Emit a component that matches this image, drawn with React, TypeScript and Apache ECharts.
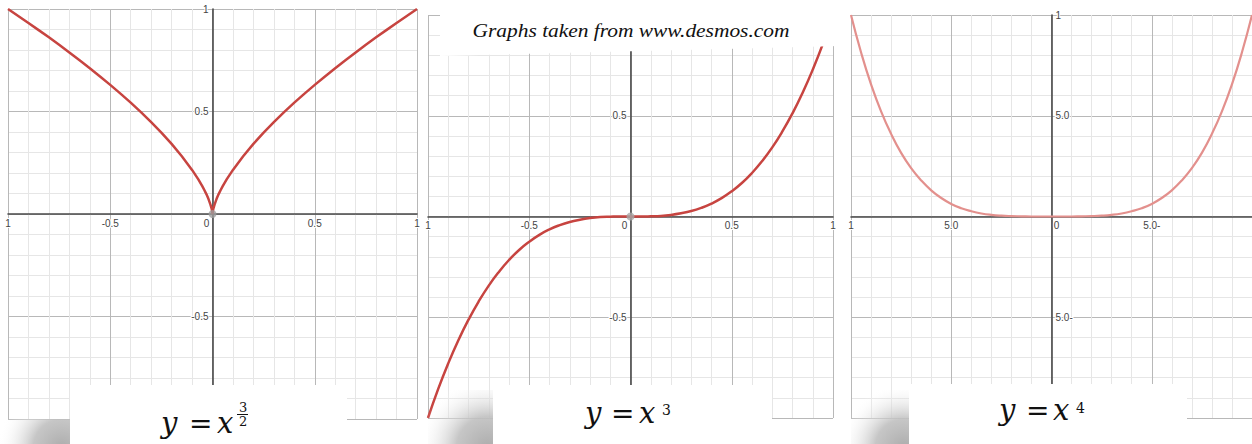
import React, { useEffect, useRef } from "react";
import * as echarts from "echarts";

// ---- data ----
const xPow23 = [-1, -0.95, -0.9, -0.85, -0.8, -0.75, -0.7, -0.65, -0.6, -0.55, -0.5, -0.45, -0.4, -0.35, -0.3, -0.25, -0.2, -0.15, -0.1, -0.07, -0.05, -0.04, -0.03, -0.02, -0.01, -0.005, -0.0025, 0, 0.0025, 0.005, 0.01, 0.02, 0.03, 0.04, 0.05, 0.07, 0.1, 0.15, 0.2, 0.25, 0.3, 0.35, 0.4, 0.45, 0.5, 0.55, 0.6, 0.65, 0.7, 0.75, 0.8, 0.85, 0.9, 0.95, 1];
const yPow23 = [1, 0.966, 0.932, 0.897, 0.862, 0.826, 0.788, 0.75, 0.711, 0.671, 0.63, 0.587, 0.543, 0.497, 0.448, 0.397, 0.342, 0.282, 0.215, 0.17, 0.136, 0.117, 0.097, 0.074, 0.046, 0.029, 0.018, 0, 0.018, 0.029, 0.046, 0.074, 0.097, 0.117, 0.136, 0.17, 0.215, 0.282, 0.342, 0.397, 0.448, 0.497, 0.543, 0.587, 0.63, 0.671, 0.711, 0.75, 0.788, 0.826, 0.862, 0.897, 0.932, 0.966, 1];

const xCube = [-1, -0.95, -0.9, -0.85, -0.8, -0.75, -0.7, -0.65, -0.6, -0.55, -0.5, -0.45, -0.4, -0.35, -0.3, -0.25, -0.2, -0.15, -0.1, -0.05, 0, 0.05, 0.1, 0.15, 0.2, 0.25, 0.3, 0.35, 0.4, 0.45, 0.5, 0.55, 0.6, 0.65, 0.7, 0.75, 0.8, 0.85, 0.9, 0.95, 1];
const yCube = [-1, -0.857, -0.729, -0.614, -0.512, -0.422, -0.343, -0.275, -0.216, -0.166, -0.125, -0.091, -0.064, -0.043, -0.027, -0.016, -0.008, -0.003, -0.001, 0, 0, 0, 0.001, 0.003, 0.008, 0.016, 0.027, 0.043, 0.064, 0.091, 0.125, 0.166, 0.216, 0.275, 0.343, 0.422, 0.512, 0.614, 0.729, 0.857, 1];

const xQuart = [-1, -0.95, -0.9, -0.85, -0.8, -0.75, -0.7, -0.65, -0.6, -0.55, -0.5, -0.45, -0.4, -0.35, -0.3, -0.25, -0.2, -0.15, -0.1, -0.05, 0, 0.05, 0.1, 0.15, 0.2, 0.25, 0.3, 0.35, 0.4, 0.45, 0.5, 0.55, 0.6, 0.65, 0.7, 0.75, 0.8, 0.85, 0.9, 0.95, 1];
const yQuart = [1, 0.815, 0.656, 0.522, 0.41, 0.316, 0.24, 0.179, 0.13, 0.092, 0.0625, 0.041, 0.026, 0.015, 0.008, 0.004, 0.002, 0.001, 0, 0, 0, 0, 0, 0.001, 0.002, 0.004, 0.008, 0.015, 0.026, 0.041, 0.0625, 0.092, 0.13, 0.179, 0.24, 0.316, 0.41, 0.522, 0.656, 0.815, 1];

const origin = [[0, 0]];

// tick labels (as visible in the picture; panel 3 is a mirrored screenshot)
const xTicks1: Record<string, string> = { "-1": "1", "-0.5": "-0.5", "0": "{zl|0}", "0.5": "0.5", "1": "1" };
const yTicks1: Record<string, string> = { "-1": "", "-0.5": "-0.5", "0": "", "0.5": "0.5", "1": "1" };
const yTicks2: Record<string, string> = { "-1": "", "-0.5": "-0.5", "0": "", "0.5": "0.5", "1": "" };
const xTicks3: Record<string, string> = { "-1": "1", "-0.5": "5.0", "0": "{zr|0}", "0.5": "5.0-", "1": "" };
const yTicks3: Record<string, string> = { "-1": "", "-0.5": "5.0-", "0": "", "0.5": "5.0", "1": "1" };

const title = "Graphs taken from www.desmos.com";

const zip = (xs: number[], ys: number[]) => xs.map((x, i) => [x, ys[i]]);

const labelBase = {
  fontSize: 10,
  color: "#444",
  fontFamily: "Liberation Sans, Arial, sans-serif",
  textBorderColor: "#fff",
  textBorderWidth: 2,
};
const rich = {
  zl: { ...labelBase, padding: [0, 12, 0, 0] },
  zr: { ...labelBase, padding: [0, 0, 0, 10] },
};

const fmt = (ticks: Record<string, string>) => (v: number) => {
  const k = String(Math.round(v * 100) / 100);
  return ticks[k] ?? "";
};

function xAxis(gi: number, ticks: Record<string, string>, off: number) {
  return {
    type: "value",
    gridIndex: gi,
    position: "bottom",
    offset: off,
    min: -1,
    max: 1,
    interval: 0.5,
    axisLine: { onZero: false, lineStyle: { color: "#4a4a4a", width: 1.6 } },
    axisTick: { show: false },
    minorTick: { show: false, splitNumber: 5 },
    splitLine: { show: true, lineStyle: { color: "#b8b8b8", width: 1 } },
    minorSplitLine: { show: true, lineStyle: { color: "#e6e6e6", width: 1 } },
    axisLabel: { ...labelBase, margin: 4, hideOverlap: false, showMinLabel: true, showMaxLabel: true, rich, formatter: fmt(ticks) },
  };
}
function yAxis(gi: number, ticks: Record<string, string>, off: number, inside: boolean) {
  return {
    type: "value",
    gridIndex: gi,
    position: "left",
    offset: off,
    min: -1,
    max: 1,
    interval: 0.5,
    axisLine: { onZero: false, lineStyle: { color: "#4a4a4a", width: 1.6 } },
    axisTick: { show: false },
    minorTick: { show: false, splitNumber: 5 },
    splitLine: { show: true, lineStyle: { color: "#b8b8b8", width: 1 } },
    minorSplitLine: { show: true, lineStyle: { color: "#e6e6e6", width: 1 } },
    axisLabel: { ...labelBase, margin: 4, inside, hideOverlap: false, showMinLabel: true, showMaxLabel: true, formatter: fmt(ticks) },
  };
}

const mathFont = "DejaVu Serif";
function glyph(t: string, x: number, y: number, size: number, italic: boolean) {
  return {
    type: "text",
    z: 110,
    style: {
      text: t,
      x,
      y,
      align: "left",
      verticalAlign: "middle",
      fontFamily: mathFont,
      fontSize: size,
      fontStyle: italic ? "italic" : "normal",
      fill: "#111",
    },
  };
}
function shadow(x: number, y: number, w: number, h: number, cx: number, cy: number, r: number) {
  return {
    type: "rect",
    z: 100,
    shape: { x, y, width: w, height: h },
    style: {
      fill: new echarts.graphic.RadialGradient(cx, cy, r, [
        { offset: 0, color: "rgba(172,172,172,1)" },
        { offset: 0.45, color: "rgba(192,192,192,0.9)" },
        { offset: 1, color: "rgba(255,255,255,0)" },
      ], true),
    },
  };
}
function box(x: number, y: number, w: number, h: number) {
  return { type: "rect", z: 105, shape: { x, y, width: w, height: h }, style: { fill: "#fff" } };
}

export default function App() {
  const ref = useRef<HTMLDivElement>(null);
  useEffect(() => {
    if (!ref.current) return;
    const chart = echarts.init(ref.current, null, { renderer: "svg" });
    chart.setOption({
      animation: false,
      backgroundColor: "#fff",
      grid: [
        { left: 8, top: 9, width: 409, height: 410, outerBoundsMode: "none", containLabel: false },
        { left: 428, top: 15, width: 405, height: 403, outerBoundsMode: "none", containLabel: false },
        { left: 851, top: 15, width: 401, height: 403, outerBoundsMode: "none", containLabel: false },
      ],
      xAxis: [xAxis(0, xTicks1, -205), xAxis(1, xTicks1, -201.5), xAxis(2, xTicks3, -201.5)],
      yAxis: [yAxis(0, yTicks1, -204.5, false), yAxis(1, yTicks2, -202.5, false), yAxis(2, yTicks3, -200.5, true)],
      series: [
        { type: "line", xAxisIndex: 0, yAxisIndex: 0, data: zip(xPow23, yPow23), showSymbol: false, smooth: false, lineStyle: { color: "#c74440", width: 2.5 } },
        { type: "line", xAxisIndex: 1, yAxisIndex: 1, data: zip(xCube, yCube), showSymbol: false, smooth: true, lineStyle: { color: "#c74440", width: 2.5 } },
        { type: "line", xAxisIndex: 2, yAxisIndex: 2, data: zip(xQuart, yQuart), showSymbol: false, smooth: true, lineStyle: { color: "#e3908d", width: 2.2 } },
        { type: "scatter", xAxisIndex: 0, yAxisIndex: 0, data: origin, symbolSize: 8, itemStyle: { color: "#9e9e9e" }, z: 5 },
        { type: "scatter", xAxisIndex: 1, yAxisIndex: 1, data: origin, symbolSize: 8, itemStyle: { color: "#a8a8a8" }, z: 5 },
      ],
      graphic: [
        // title banner
        { type: "polygon", z: 105, shape: { points: [[440, 14], [840, 12], [840, 46], [440, 56]] }, style: { fill: "#fff" } },
        {
          type: "text", z: 110, x: 631, y: 31, scaleX: 1.19,
          style: { text: title, align: "center", verticalAlign: "middle", fontFamily: "Liberation Serif", fontStyle: "italic", fontSize: 18, fill: "#111" },
        },
        // shadows
        shadow(0, 419, 70, 25, 62, 448, 64),
        shadow(428, 390, 65, 54, 488, 448, 70),
        shadow(851, 390, 58, 54, 904, 448, 64),
        // label boxes
        box(70, 385, 277, 59),
        box(493, 385, 279, 59),
        box(909, 384, 278, 60),
        // y = x^(3/2)
        glyph("y", 161, 423, 29, true),
        glyph("=", 189, 423, 28, false),
        glyph("x", 217, 423, 29, true),
        glyph("3", 239, 407, 13, false),
        { type: "line", z: 110, shape: { x1: 237, y1: 414.5, x2: 248, y2: 414.5 }, style: { stroke: "#111", lineWidth: 1 } },
        glyph("2", 239, 421, 13, false),
        // y = x^3
        glyph("y", 585, 413, 29, true),
        glyph("=", 611, 413, 28, false),
        glyph("x", 639, 413, 29, true),
        glyph("3", 662, 410, 14, false),
        // y = x^4
        glyph("y", 999, 410, 29, true),
        glyph("=", 1026, 410, 28, false),
        glyph("x", 1053, 410, 29, true),
        glyph("4", 1076, 408, 14, false),
      ],
    });
    return () => chart.dispose();
  }, []);
  return <div ref={ref} style={{ position: "absolute", left: 0, top: 0, width: 1252, height: 444 }} />;
}
